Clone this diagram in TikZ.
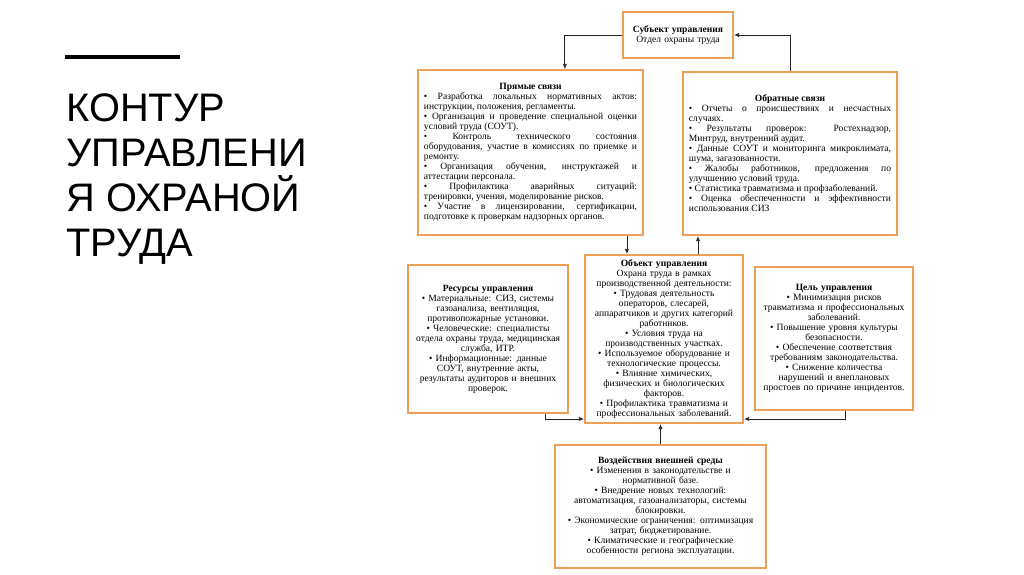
\documentclass[tikz,border=0pt]{standalone}
\usepackage{fontspec}
\setmainfont{Liberation Serif}
\newfontfamily\titlefont{Liberation Sans}
\usepackage{tikz}
\usetikzlibrary{arrows.meta,positioning,calc}
\definecolor{borange}{HTML}{EF9E56}
\setlength{\parindent}{0pt}

\tikzset{
  blok/.style={draw=borange, line width=1.3pt, fill=white,
    inner xsep=0.15cm, inner ysep=2pt, align=center,
    font=\fontsize{6.8}{7.1}\selectfont},
  blokj/.style={blok, align=justify},
  strelka/.style={draw=black!85, line width=0.6pt,
    -{Latex[length=1.3mm,width=1.1mm]}}
}

\begin{document}
\begin{tikzpicture}[x=0.025cm, y=-0.025cm]
  \useasboundingbox (0,0) rectangle (1024,574);

  % заголовок слайда
  \draw[line width=2.4pt] (65,57) -- (180,57);
  \node[anchor=north west, inner sep=0, align=left,
        font=\titlefont\fontsize{28.3}{32}\selectfont] (zag) at (66,93)
    {КОНТУР\\УПРАВЛЕНИ\\Я ОХРАНОЙ\\ТРУДА};

  % блоки схемы
  \node[blok, text width=2.45cm, minimum height=1.15cm] (subj) at (678,35)
    {\textbf{Субъект управления}\\Отдел охраны труда};

  \node[blokj, text width=5.325cm, minimum height=4.125cm] (pryam) at (530.5,152.5) {
    {\centering\textbf{Прямые связи}\par}
    • Разработка локальных нормативных актов:\linebreak
    инструкции, положения, регламенты.\par
    • Организация и проведение специальной оценки\linebreak
    условий труда (СОУТ).\par
    • Контроль технического состояния\linebreak
    оборудования, участие в комиссиях по приемке и\linebreak
    ремонту.\par
    • Организация обучения, инструктажей и\linebreak
    аттестации персонала.\par
    • Профилактика аварийных ситуаций:\linebreak
    тренировки, учения, моделирование рисков.\par
    • Участие в лицензировании, сертификации,\linebreak
    подготовке к проверкам надзорных органов.
  };

  \node[blokj, text width=5.05cm, minimum height=4.075cm] (obrat) at (790,153.5) {
    {\centering\textbf{Обратные связи}\par}
    • Отчеты о происшествиях и несчастных\linebreak
    случаях.\par
    • Результаты проверок: Ростехнадзор,\linebreak
    Минтруд, внутренний аудит.\par
    • Данные СОУТ и мониторинга микроклимата,\linebreak
    шума, загазованности.\par
    • Жалобы работников, предложения по\linebreak
    улучшению условий труда.\par
    • Статистика травматизма и профзаболеваний.\par
    • Оценка обеспеченности и эффективности\linebreak
    использования СИЗ
  };

  \node[blok, text width=3.7cm, minimum height=3.7cm] (res) at (488,339) {
    \textbf{Ресурсы управления}\\
    • Материальные: СИЗ, системы\\
    газоанализа, вентиляция,\\
    противопожарные установки.\\
    • Человеческие: специалисты\\
    отдела охраны труда, медицинская\\
    служба, ИТР.\\
    • Информационные: данные\\
    СОУТ, внутренние акты,\\
    результаты аудиторов и внешних\\
    проверок.
  };

  \node[blok, text width=3.65cm, minimum height=4.2cm] (obj) at (664,339) {
    \textbf{Объект управления}\\
    Охрана труда в рамках\\
    производственной деятельности:\\
    • Трудовая деятельность\\
    операторов, слесарей,\\
    аппаратчиков и других категорий\\
    работников.\\
    • Условия труда на\\
    производственных участках.\\
    • Используемое оборудование и\\
    технологические процессы.\\
    • Влияние химических,\\
    физических и биологических\\
    факторов.\\
    • Профилактика травматизма и\\
    профессиональных заболеваний.
  };

  \node[blok, text width=3.65cm, minimum height=3.575cm] (cel) at (834,338.5) {
    \textbf{Цель управления}\\
    • Минимизация рисков\\
    травматизма и профессиональных\\
    заболеваний.\\
    • Повышение уровня культуры\\
    безопасности.\\
    • Обеспечение соответствия\\
    требованиям законодательства.\\
    • Снижение количества\\
    нарушений и внеплановых\\
    простоев по причине инцидентов.
  };

  \node[blok, text width=4.975cm, minimum height=3.075cm] (vozd) at (660.5,506.5) {
    \textbf{Воздействия внешней среды}\\
    • Изменения в законодательстве и\\
    нормативной базе.\\
    • Внедрение новых технологий:\\
    автоматизация, газоанализаторы, системы\\
    блокировки.\\
    • Экономические ограничения: оптимизация\\
    затрат, бюджетирование.\\
    • Климатические и географические\\
    особенности региона эксплуатации.
  };

  % связи
  \draw[strelka] (subj.west) -| ([xshift=0.86cm]pryam.north);
  \draw[strelka] (obrat.north) |- (subj.east);
  \draw[strelka] ([xshift=2.41cm]pryam.south) -- ([xshift=2.41cm]pryam.south |- obj.north);
  \draw[strelka] ([xshift=-2.3cm]obrat.south |- obj.north) -- ([xshift=-2.3cm]obrat.south);
  \draw[strelka] (vozd.north) -- (vozd.north |- obj.south);
  \draw[strelka] ([xshift=1.43cm]res.south) |- ([yshift=0.125cm]obj.south west);
  \draw[strelka] ([xshift=0.275cm]cel.south) |- ([yshift=0.125cm]obj.south east);
\end{tikzpicture}
\end{document}
